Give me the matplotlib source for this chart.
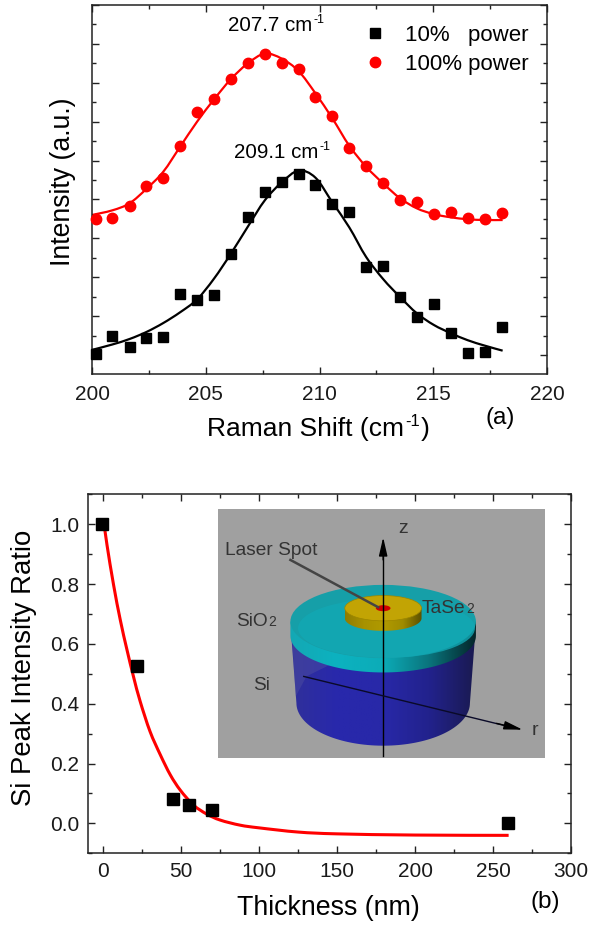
import matplotlib
matplotlib.use('Agg')
import matplotlib.pyplot as plt
import numpy as np
from matplotlib.patches import Ellipse, Rectangle, Polygon, PathPatch
from matplotlib.path import Path
from matplotlib.ticker import MultipleLocator

plt.rcParams['font.family'] = ['Liberation Sans', 'DejaVu Sans']

# raman spectra, y in arbitrary units (one major tick = 1)
raman_x = [200.16, 200.9, 201.65, 202.39, 203.13, 203.88, 204.62, 205.36, 206.1,
           206.85, 207.6, 208.34, 209.08, 209.82, 210.57, 211.31, 212.05, 212.8,
           213.54, 214.28, 215.03, 215.77, 216.51, 217.26, 218.0]
low_power = [0.03, 0.48, 0.21, 0.44, 0.47, 1.56, 1.41, 1.53, 2.60, 3.56, 4.18, 4.46,
             4.66, 4.37, 3.87, 3.68, 2.27, 2.29, 1.50, 0.98, 1.30, 0.57, 0.05, 0.08, 0.71]
full_power = [3.49, 3.51, 3.84, 4.35, 4.54, 5.38, 6.24, 6.57, 7.09, 7.51, 7.74, 7.52,
              7.36, 6.64, 6.14, 5.33, 4.86, 4.41, 3.98, 3.93, 3.62, 3.67, 3.52, 3.50, 3.64]

fit_x = [200.0, 200.9, 201.65, 202.39, 203.13, 203.88, 204.62, 205.36, 206.1,
         206.85, 207.6, 208.34, 209.08, 209.82, 210.57, 211.31, 212.05, 212.8,
         213.54, 214.28, 215.03, 215.77, 216.51, 217.26, 218.05]
low_fit = [0.13, 0.27, 0.41, 0.59, 0.82, 1.10, 1.43, 1.96, 2.60, 3.30, 3.98, 4.44,
           4.74, 4.56, 3.92, 3.28, 2.52, 1.95, 1.49, 1.07, 0.77, 0.56, 0.38, 0.24, 0.11]
full_fit = [3.60, 3.72, 3.90, 4.27, 4.71, 5.36, 6.00, 6.57, 7.09, 7.50, 7.75, 7.62,
            7.30, 6.73, 6.08, 5.38, 4.84, 4.41, 4.03, 3.77, 3.62, 3.54, 3.49, 3.47, 3.47]

# si peak ratio vs thickness
thickness = [-1, 21.6, 45, 54.7, 69.5, 259.5]
ratio = [1.0, 0.527, 0.083, 0.061, 0.046, 0.0]
curve_x = [0, 2.4, 6.6, 10.9, 15.2, 19.4, 23.7, 30, 36.6, 43, 49.4, 57.9, 66.4, 75, 87.8,
           100, 125, 150, 200, 260]
curve_y = [1.02, 0.93, 0.797, 0.68, 0.58, 0.49, 0.407, 0.307, 0.229, 0.162, 0.111, 0.061,
           0.031, 0.011, -0.006, -0.015, -0.029, -0.035, -0.039, -0.04]

W, H = 590, 927
DARK = '#222222'


def px_axes(fig, left, top, right, bottom, **kw):
    return fig.add_axes([left / W, 1 - bottom / H, (right - left) / W, (bottom - top) / H], **kw)


def style_axes(ax, pad):
    for s in ax.spines.values():
        s.set_linewidth(1.1)
        s.set_color(DARK)
    ax.tick_params(which='major', direction='in', length=5, width=1.0, color=DARK,
                   labelsize=15, pad=pad, labelcolor='#1a1a1a')
    ax.tick_params(which='minor', direction='in', length=3, width=1.0, color=DARK)


def smooth_line(ax, xs, ys, **kw):
    # catmull-rom through the read points, drawn as a bezier path
    pts = np.column_stack([xs, ys])
    verts = [pts[0]]
    codes = [Path.MOVETO]
    for i in range(len(pts) - 1):
        p0 = pts[max(i - 1, 0)]
        p3 = pts[min(i + 2, len(pts) - 1)]
        verts += [pts[i] + (pts[i + 1] - p0) / 6, pts[i + 1] - (p3 - pts[i]) / 6, pts[i + 1]]
        codes += [Path.CURVE4] * 3
    ax.add_patch(PathPatch(Path(verts, codes), fc='none', **kw))


def px_chain(fig, x, y, parts, **kw):
    # text runs one after the other, each (string, size, rise in px), x,y in picture pixels
    r = fig.canvas.get_renderer()
    for s, size, rise in parts:
        t = fig.text(x / W, 1 - (y - rise) / H, s, fontsize=size, ha='left', va='baseline', **kw)
        t.set_zorder(20)
        x = t.get_window_extent(r).x1 + 1


fig = plt.figure(figsize=(W / 100, H / 100), dpi=100)

# panel a
ax = px_axes(fig, 92, 5, 547, 374)
smooth_line(ax, fit_x, low_fit, ec='black', lw=1.6, zorder=2)
smooth_line(ax, fit_x, full_fit, ec='#ff0000', lw=1.6, zorder=2)
ax.plot(raman_x, low_power, 's', color='black', ms=7, label='10%   power', zorder=3, clip_on=False)
ax.plot(raman_x, full_power, 'o', color='#ff0000', ms=7.5, label='100% power', zorder=3, clip_on=False)
ax.set_xlim(200, 220)
ax.set_ylim(-0.49, 9.0)
ax.xaxis.set_major_locator(MultipleLocator(5))
ax.xaxis.set_minor_locator(MultipleLocator(2.5))
ax.yaxis.set_major_locator(MultipleLocator(1))
ax.yaxis.set_minor_locator(MultipleLocator(0.5))
ax.tick_params(which='both', top=True, right=True, labelleft=False)
style_axes(ax, 8)
ax.legend(loc='upper right', frameon=False, fontsize=16, handletextpad=0.55, handlelength=1.6,
          labelspacing=0.36, bbox_to_anchor=(0.98, 0.97), borderaxespad=0)
px_chain(fig, 228, 31, [('207.7 cm', 14.8, 0), ('-1', 9, 8)])
px_chain(fig, 234, 158, [('209.1 cm', 14.8, 0), ('-1', 9, 8)])
px_chain(fig, 207, 436, [('Raman Shift (cm', 19, 0), ('-1', 12, 10), (')', 19, 0)])
fig.text(63 / W, 1 - 181.5 / H, 'Intensity (a.u.)', rotation=90, ha='center', va='center', fontsize=19.2)
fig.text(500 / W, 1 - 418 / H, '(a)', ha='center', va='center', fontsize=17.5)

# panel b
bx = px_axes(fig, 87.7, 494.3, 571, 853.3)
smooth_line(bx, curve_x, curve_y, ec='#ff0000', lw=2.2, zorder=2)
bx.plot(thickness, ratio, 's', color='black', ms=8.6, zorder=3)
bx.set_xlim(-10, 300)
bx.set_ylim(-0.1, 1.1)
bx.xaxis.set_major_locator(MultipleLocator(50))
bx.xaxis.set_minor_locator(MultipleLocator(25))
bx.yaxis.set_major_locator(MultipleLocator(0.2))
bx.yaxis.set_minor_locator(MultipleLocator(0.1))
bx.tick_params(which='both', top=True, right=True)
style_axes(bx, 6)
fig.text(328 / W, 1 - 908 / H, 'Thickness (nm)', ha='center', va='center', fontsize=19.3)
fig.text(24 / W, 1 - 668 / H, 'Si Peak Intensity Ratio', rotation=90, ha='center', va='center', fontsize=19.8)
fig.text(545 / W, 1 - 902 / H, '(b)', ha='center', va='center', fontsize=17.5)

# inset sketch, drawn in the 3x zoom pixel frame
ix = px_axes(fig, 218, 509, 545, 758)
ix.set_xlim(55, 1035)
ix.set_ylim(775, 27)
ix.axis('off')
ix.add_patch(Rectangle((55, 27), 980, 748, color='#a0a0a0', zorder=0))


def shaded(ax, outline, stops, xr, yr, z):
    # horizontal gradient clipped to an outline
    patch = Polygon(outline, closed=True, transform=ax.transData, fc='none', ec='none')
    ax.add_patch(patch)
    cols = np.array([matplotlib.colors.to_rgb(c) for c in stops])
    xs = np.linspace(0, 1, 256)
    pos = np.linspace(0, 1, len(stops))
    img = np.stack([np.interp(xs, pos, cols[:, i]) for i in range(3)], axis=-1)[None, :, :]
    im = ax.imshow(img, extent=[xr[0], xr[1], yr[1], yr[0]], aspect='auto', zorder=z)
    im.set_clip_path(patch)


def cyl_outline(cx, rx, ry, bottom, top_rx, top):
    t = np.linspace(0, np.pi, 80)
    lower = np.column_stack([cx + rx * np.cos(t), bottom + ry * np.sin(t)])
    return np.vstack([[[cx + top_rx, top]], lower, [[cx - top_rx, top]]])


# si body
shaded(ix, cyl_outline(550, 260, 128, 610, 276, 400),
       ['#30309a', '#2828ac', '#2828a8', '#22228c', '#1a1a50'], (274, 826), (380, 740), 1)
ix.add_patch(Polygon([[276, 400], [288, 590], [320, 530], [400, 490], [500, 470]],
                     closed=True, fc='#5a5aa0', ec='none', alpha=0.35, zorder=1.5))
# oxide rim and top
shaded(ix, cyl_outline(550, 278, 110, 408, 278, 365),
       ['#14a8b4', '#0cb2c0', '#0cacb8', '#0a747c', '#04262a'], (272, 828), (360, 520), 2)
ix.add_patch(Ellipse((550, 365), 556, 220, fc='#169fa8', ec='none', zorder=3))
ix.add_patch(Ellipse((560, 385), 530, 178, fc='#12a8b4', ec='none', alpha=0.8, zorder=3))
# flake
shaded(ix, cyl_outline(550, 115, 38, 355, 115, 325),
       ['#8f7c00', '#a89200', '#b09a00', '#a08c00', '#5c5000'], (435, 665), (320, 395), 4)
ix.add_patch(Ellipse((550, 325), 230, 76, fc='#c2a404', ec='#9c8600', lw=0.5, zorder=5))
ix.add_patch(Ellipse((550, 325), 44, 18, fc='#d00000', ec='none', zorder=6))

# axes lines of the sketch
head = '-|>,head_width=0.16,head_length=0.7'
ix.plot([550, 550], [768, 160], color='black', lw=1.0, zorder=7)
ix.annotate('', xy=(550, 112), xytext=(550, 180), zorder=7,
            arrowprops=dict(arrowstyle=head, color='black', lw=1.0, mutation_scale=16, shrinkA=0, shrinkB=0))
ix.plot([312, 920], [530, 679], color='#0a0a28', lw=1.0, zorder=7)
ix.annotate('', xy=(968, 690), xytext=(890, 671), zorder=7,
            arrowprops=dict(arrowstyle=head, color='black', lw=1.0, mutation_scale=16, shrinkA=0, shrinkB=0))
ix.plot([272, 535], [180, 322], color='#444444', lw=1.8, zorder=7)

TXT = '#333333'
px_chain(fig, 398, 533, [('z', 14, 0)], color=TXT)
px_chain(fig, 225, 555, [('Laser Spot', 13.8, 0)], color=TXT)
px_chain(fig, 422, 613, [('TaSe', 13.8, 0), ('2', 10, 0)], color=TXT)
px_chain(fig, 236, 626, [('SiO', 13.8, 0), ('2', 10, 0)], color=TXT)
px_chain(fig, 253, 690, [('Si', 13.8, 0)], color=TXT)
px_chain(fig, 532, 735, [('r', 14, 0)], color=TXT)

fig.savefig('out.png', dpi=100)
